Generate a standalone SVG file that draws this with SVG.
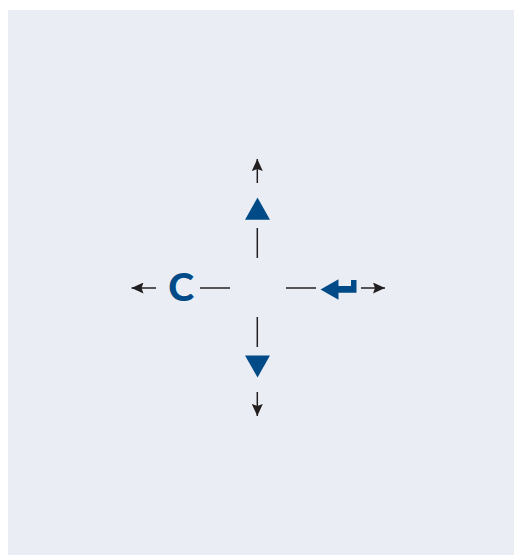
<svg xmlns="http://www.w3.org/2000/svg" width="514" height="555" viewBox="0 0 514 555">
  <style>
    .line { stroke: #231f20; stroke-width: 1.5; fill: none; }
    .arrow { stroke: #231f20; stroke-width: 1.5; fill: none; marker-end: url(#head); }
    .icon { fill: #004b87; }
    .glyph { font-family: "Lato", "Liberation Sans", sans-serif; font-weight: 900; font-size: 37px; text-anchor: middle; }
  </style>
  <defs>
    <marker id="head" markerUnits="userSpaceOnUse" markerWidth="12" markerHeight="11" refX="12" refY="5.5" orient="auto" viewBox="0 0 12 11">
      <path d="M0 0 L12 5.5 L0 11 L2 5.5 Z" fill="#231f20"/>
    </marker>
  </defs>
  <rect id="panel" x="8" y="10" width="506" height="545" fill="#eaedf4"/>
  <g id="connectors">
    <path class="line" d="M257.3 228V258"/>
    <path class="line" d="M257.3 317V347"/>
    <path class="line" d="M200 288H230"/>
    <path class="line" d="M286 288H316"/>
    <path class="arrow" d="M257.3 183V159"/>
    <path class="arrow" d="M257.3 392V416"/>
    <path class="arrow" d="M156 288H131.5"/>
    <path class="arrow" d="M361 288H385"/>
  </g>
  <g id="node-up"><polygon class="icon" points="257.5,197.5 270,219.7 245,219.7"/></g>
  <g id="node-down"><polygon class="icon" points="257.5,377.5 270,355.5 245,355.5"/></g>
  <g id="node-clear"><text class="glyph icon" transform="translate(181.2 301.3) scale(1.06 1)">C</text></g>
  <g id="node-enter"><polygon class="icon" points="320.5,289.5 338.5,279.3 338.5,286 351,286 351,280 356.5,280 356.5,292.7 338.5,292.7 338.5,299.7"/></g>
</svg>
